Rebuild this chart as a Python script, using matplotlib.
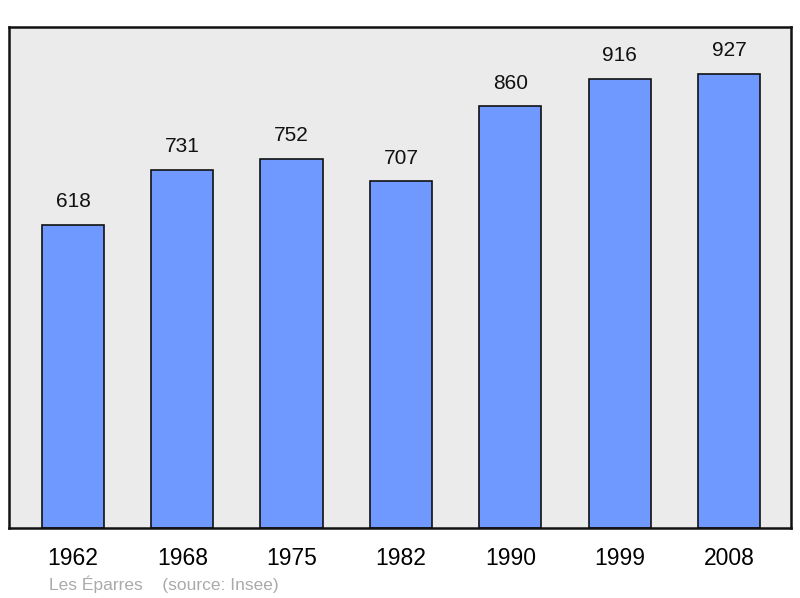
import matplotlib.pyplot as plt

plt.rcParams['font.family'] = ['Liberation Sans', 'DejaVu Sans']

annees = ["1962", "1968", "1975", "1982", "1990", "1999", "2008"]
population = [618, 731, 752, 707, 860, 916, 927]

fig = plt.figure(figsize=(8, 5.98), dpi=100)
ax = fig.add_axes([9 / 800, 70 / 598, 782 / 800, 501 / 598])
ax.set_facecolor("#ebebeb")

x = list(range(len(annees)))
ax.bar(x, population, width=0.57, color="#7099ff", edgecolor="#111111", linewidth=1.2, zorder=2)

for xi, v in zip(x, population):
    ax.annotate(str(v), (xi, v), xytext=(0, 10), textcoords="offset points",
                ha="center", va="bottom", fontsize=15, color="#111111")

ax.set_xlim(-0.585, 6.567)
ax.set_ylim(0, 1022)
ax.set_xticks(x)
ax.set_xticklabels(annees, fontsize=16.5)
ax.tick_params(axis="x", length=0, pad=14)
ax.set_yticks([])
for s in ax.spines.values():
    s.set_linewidth(1.8)
    s.set_color("#111111")

fig.text(49 / 800, 1 - 584 / 598, "Les Éparres    (source: Insee)", fontsize=12.5,
         color="#aaaaaa", va="center", ha="left")

fig.savefig("out.png", dpi=100)
